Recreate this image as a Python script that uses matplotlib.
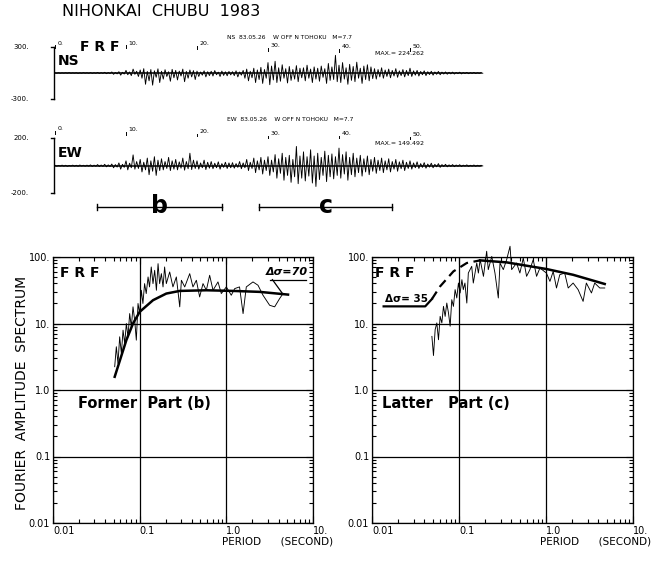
import matplotlib
matplotlib.use("Agg")
import matplotlib.pyplot as plt
import numpy as np

# ---- accelerograms: peak up / down amplitude (gal) every 0.5 s, 0..60 s ----
ns_up = [2, 3, 2, 3, 4, 2, 3, 2, 4, 3,
         4, 3, 6, 4, 8, 5, 12, 6, 15, 8,
         30, 12, 45, 20, 35, 50, 18, 40, 25, 48,
         20, 38, 15, 42, 30, 22, 45, 18, 35, 28,
         22, 12, 25, 15, 20, 28, 10, 22, 14, 18,
         15, 25, 12, 30, 45, 20, 55, 35, 65, 40,
         120, 80, 135, 60, 95, 50, 75, 40, 85, 55,
         60, 90, 45, 70, 55, 80, 50, 110, 70, 204,
         90, 120, 60, 100, 75, 125, 55, 80, 95, 70,
         50, 40, 60, 35, 45, 30, 50, 25, 40, 30,
         55, 25, 30, 18, 25, 15, 20, 12, 18, 10,
         12, 8, 10, 6, 9, 5, 7, 4, 6, 3, 3]
ns_dn = [2, 3, 2, 2, 3, 2, 4, 3, 2, 3,
         4, 3, 5, 4, 8, 6, 15, 10, 25, 12,
         20, 30, 15, 40, 60, 130, 90, 140, 50, 110,
         70, 40, 95, 55, 80, 35, 100, 60, 45, 75,
         40, 25, 45, 30, 35, 20, 40, 28, 32, 22,
         30, 45, 25, 60, 90, 55, 110, 75, 120, 60,
         135, 80, 110, 95, 60, 115, 85, 70, 100, 55,
         90, 60, 110, 70, 95, 50, 120, 85, 75, 100,
         110, 70, 130, 85, 100, 60, 120, 75, 90, 65,
         70, 45, 60, 40, 55, 35, 50, 30, 45, 30,
         40, 25, 35, 20, 30, 18, 25, 15, 20, 12,
         14, 10, 12, 8, 10, 6, 8, 5, 6, 4, 3]
ew_up = [3, 2, 4, 3, 2, 4, 3, 5, 3, 4,
         6, 4, 8, 5, 10, 6, 12, 8, 20, 10,
         35, 18, 78, 30, 45, 25, 55, 35, 65, 40,
         50, 30, 60, 35, 45, 28, 55, 30, 90, 40,
         35, 20, 40, 25, 30, 18, 28, 15, 25, 20,
         22, 15, 30, 20, 45, 25, 55, 35, 60, 40,
         65, 40, 80, 50, 90, 60, 75, 45, 139, 70,
         100, 65, 115, 70, 90, 60, 105, 75, 85, 65,
         127, 80, 100, 60, 90, 55, 75, 50, 70, 45,
         60, 40, 55, 35, 50, 30, 45, 28, 40, 25,
         35, 20, 28, 15, 22, 12, 18, 10, 15, 8,
         10, 6, 8, 5, 7, 4, 6, 3, 5, 3, 3]
ew_dn = [3, 2, 3, 4, 2, 3, 4, 2, 3, 3,
         5, 4, 6, 5, 8, 6, 15, 10, 25, 12,
         30, 15, 25, 20, 45, 30, 65, 40, 70, 35,
         30, 20, 35, 25, 30, 18, 32, 22, 28, 20,
         25, 15, 28, 18, 22, 15, 25, 12, 20, 15,
         18, 12, 22, 15, 35, 20, 50, 30, 60, 35,
         70, 45, 90, 55, 105, 70, 120, 80, 130, 90,
         110, 75, 125, 150, 100, 70, 115, 80, 95, 70,
         90, 60, 105, 65, 80, 50, 75, 45, 65, 40,
         55, 35, 50, 30, 45, 25, 40, 22, 35, 20,
         25, 15, 20, 12, 18, 10, 15, 8, 12, 6,
         8, 5, 7, 4, 6, 3, 5, 3, 4, 2, 2]
dt = 0.5
time_marks = [0, 10, 20, 30, 40, 50]
time_labels = ["0.", "10.", "20.", "30.", "40.", "50."]

# ---- Fourier spectra (period s, amplitude) ----
left_T = [0.0515, 0.0538, 0.0562, 0.0588, 0.0615, 0.0643, 0.0672, 0.0702, 0.0733, 0.0767,
          0.0801, 0.0838, 0.0876, 0.0915, 0.0957, 0.100, 0.1045, 0.109, 0.114, 0.119,
          0.125, 0.130, 0.136, 0.1425, 0.149, 0.156, 0.163, 0.170, 0.178, 0.186,
          0.194, 0.203, 0.222, 0.242, 0.265, 0.290, 0.303, 0.331, 0.378, 0.412,
          0.451, 0.492, 0.538, 0.588, 0.642, 0.702, 0.801, 0.875, 1.0, 1.14,
          1.25, 1.42, 1.56, 1.70, 2.03, 2.32, 2.65, 3.16, 3.61, 4.12, 4.51]
left_A = [2.24, 4.47, 2.51, 6.31, 3.55, 7.94, 5.01, 10.0, 6.31, 14.1,
          8.91, 17.8, 11.2, 5.62, 20.0, 14.1, 31.6, 20.0, 39.8, 28.2,
          50.1, 35.5, 70.8, 39.8, 63.1, 31.6, 79.4, 39.8, 56.2, 35.5,
          70.8, 39.8, 59.6, 35.5, 50.1, 17.8, 44.7, 35.5, 56.2, 35.5,
          44.7, 25.1, 39.8, 31.6, 53.1, 31.6, 42.2, 28.2, 35.5, 26.6,
          33.5, 35.5, 14.1, 35.5, 42.2, 37.6, 26.6, 18.8, 17.8, 23.7, 28.2]
left_model_T = [0.0515, 0.0702, 0.0838, 0.100, 0.1425, 0.203, 0.290, 0.588, 1.19, 2.42, 5.15]
left_model_A = [1.58, 5.62, 10.0, 14.96, 22.4, 28.2, 30.9, 31.6, 30.9, 29.9, 27.2]

right_T = [0.0488, 0.0509, 0.0532, 0.0556, 0.0581, 0.0607, 0.0635, 0.0663, 0.0693, 0.0724,
           0.0757, 0.0791, 0.0826, 0.0863, 0.0902, 0.0943, 0.0985, 0.103, 0.108, 0.112,
           0.117, 0.123, 0.128, 0.140, 0.146, 0.160, 0.167, 0.175, 0.191, 0.208,
           0.217, 0.238, 0.259, 0.283, 0.296, 0.323, 0.353, 0.386, 0.403, 0.459,
           0.501, 0.548, 0.598, 0.653, 0.713, 0.779, 0.851, 1.01, 1.11, 1.21,
           1.32, 1.44, 1.64, 1.80, 2.05, 2.34, 2.67, 2.91, 3.33, 3.63, 4.15, 4.73]
right_A = [6.4, 3.3, 8.1, 10.2, 5.7, 12.8, 10.2, 18.1, 12.8, 20.3,
           14.4, 9.1, 22.8, 18.1, 32.3, 24.2, 40.6, 28.8, 45.6, 32.3,
           40.6, 20.3, 57.4, 72.4, 40.6, 81.2, 57.4, 91.2, 51.2, 122,
           64.6, 102, 57.4, 24.2, 81.2, 64.6, 91.2, 145, 64.6, 81.2,
           57.4, 96.6, 51.2, 64.6, 91.2, 51.2, 68.4, 57.4, 43, 60.8,
           34.2, 54.2, 57.4, 34.2, 40.6, 32.3, 21.5, 40.6, 28.8, 40.6, 34.2, 34.2]
right_model_T = [0.0136, 0.0409, 0.0488, 0.0607, 0.0863, 0.1228, 0.1745, 0.353, 1.01, 2.05, 4.73]
right_model_A = [18.1, 18.1, 23.3, 36.2, 60.8, 81.2, 89, 83, 66, 54, 39.3]
dash_from, dash_to = 2, 6

x_ticks = [0.01, 0.1, 1.0, 10.0]
x_ticklabels = ["0.01", "0.1", "1.0", "10."]
y_ticks = [0.01, 0.1, 1.0, 10.0, 100.0]
y_ticklabels = ["0.01", "0.1", "1.0", "10.", "100."]

W, H = 652, 563
fig = plt.figure(figsize=(W / 100, H / 100), dpi=100)


def px_axes(x0, y0, x1, y1):
    # pixel box (top-left origin) -> figure axes
    return fig.add_axes([x0 / W, 1 - y1 / H, (x1 - x0) / W, (y1 - y0) / H])


def trace(ax, up, dn):
    up = np.asarray(up, float)
    dn = np.asarray(dn, float)
    t = np.arange(len(up)) * dt
    tt = np.column_stack([t, t + dt / 2]).ravel()
    yy = np.column_stack([up, -dn]).ravel()
    ax.plot(tt, yy, color="black", lw=0.65)
    ax.plot([0, t[-1]], [0, 0], color="black", lw=1.1)


PX_S = 7.1  # pixels per second in top panel
t_left, t_right = -55 / PX_S, (W - 55) / PX_S

# ---------------- NS trace ----------------
g_ns = 300 / 26.0
ax_ns = px_axes(0, 0, W, 110)
ax_ns.set_xlim(t_left, t_right)
ax_ns.set_ylim(-37 * g_ns, 73 * g_ns)
ax_ns.axis("off")
trace(ax_ns, ns_up, ns_dn)
ax_ns.plot([-0.15, -0.15], [-300, 300], color="black", lw=1.0)
ax_ns.plot([-0.6, -0.15], [300, 300], color="black", lw=1.0)
ax_ns.plot([-0.6, -0.15], [-300, -300], color="black", lw=1.0)
ax_ns.text(-5.9, 300, "300.", fontsize=5, va="center")
ax_ns.text(-6.2, -300, "-300.", fontsize=5, va="center")
ax_ns.text(1.0, 61 * g_ns, "NIHONKAI  CHUBU  1983", fontsize=11.5,
           family="DejaVu Sans", va="center")
ax_ns.text(3.5, 300, "F R F", fontsize=10, fontweight="bold", va="center")
ax_ns.text(0.4, 138, "NS", fontsize=10, fontweight="bold", va="center")
ax_ns.text(24.2, 404, "NS  83.05.26    W OFF N TOHOKU   M=7.7", fontsize=4.3, va="center")
ax_ns.text(45.1, 225, "MAX.= 224.262", fontsize=4.5, va="center")
for tm, lab, yv in zip(time_marks, time_labels, [346, 346, 335, 312, 300, 310]):
    ax_ns.plot([tm, tm], [yv - 55, yv - 25], color="black", lw=0.7)
    ax_ns.text(tm + 0.4, yv, lab, fontsize=4.5, va="center")

# ---------------- EW trace ----------------
g_ew = 200 / 27.7
ax_ew = px_axes(0, 110, W, 235)
ax_ew.set_xlim(t_left, t_right)
ax_ew.set_ylim(-69.3 * g_ew, 55.7 * g_ew)
ax_ew.axis("off")
trace(ax_ew, ew_up, ew_dn)
ax_ew.plot([-0.15, -0.15], [-200, 200], color="black", lw=1.0)
ax_ew.plot([-0.6, -0.15], [200, 200], color="black", lw=1.0)
ax_ew.plot([-0.6, -0.15], [-200, -200], color="black", lw=1.0)
ax_ew.text(-5.9, 200, "200.", fontsize=5, va="center")
ax_ew.text(-6.2, -200, "-200.", fontsize=5, va="center")
ax_ew.text(0.4, 92, "EW", fontsize=10, fontweight="bold", va="center")
ax_ew.text(24.2, 330, "EW  83.05.26    W OFF N TOHOKU   M=7.7", fontsize=4.3, va="center")
ax_ew.text(45.1, 160, "MAX.= 149.492", fontsize=4.5, va="center")
for tm, lab, yv in zip(time_marks, time_labels, [265, 258, 250, 236, 236, 228]):
    ax_ew.plot([tm, tm], [yv - 38, yv - 18], color="black", lw=0.7)
    ax_ew.text(tm + 0.4, yv, lab, fontsize=4.5, va="center")

# time windows b and c
for (a, b), lab in zip([(5.9, 23.5), (28.7, 47.5)], ["b", "c"]):
    yb = -298
    ax_ew.plot([a, b], [yb, yb], color="black", lw=1.0)
    ax_ew.plot([a, a], [yb - 22, yb + 22], color="black", lw=1.0)
    ax_ew.plot([b, b], [yb - 22, yb + 22], color="black", lw=1.0)
    ax_ew.text((a + b) / 2, yb + 10, lab, fontsize=17, fontweight="bold",
               ha="center", va="center")


# ---------------- spectra ----------------
def spec_axes(ax):
    ax.set_xscale("log")
    ax.set_yscale("log")
    ax.set_xlim(0.01, 10)
    ax.set_ylim(0.01, 100)
    ax.set_xticks(x_ticks)
    ax.set_xticklabels(x_ticklabels, ha="left", fontsize=7)
    ax.set_yticks(y_ticks)
    ax.set_yticklabels(y_ticklabels, fontsize=7)
    ax.tick_params(which="both", direction="in", top=True, right=True, width=0.8)
    ax.tick_params(which="major", length=5, pad=2)
    ax.tick_params(which="minor", length=3)
    ax.grid(True, which="major", color="black", lw=0.9)
    for s in ax.spines.values():
        s.set_linewidth(0.9)


axL = px_axes(53, 257, 313, 523)
spec_axes(axL)
axL.plot(left_T, left_A, color="black", lw=0.65, clip_on=False)
axL.plot(left_model_T, left_model_A, color="black", lw=1.8)
axL.text(0.027, 0.94, "F R F", transform=axL.transAxes, fontsize=10,
         fontweight="bold", va="center")
axL.text(0.096, 0.451, "Former  Part (b)", transform=axL.transAxes, fontsize=10.5,
         fontweight="bold", va="center")
axL.text(5.0, 50, "Δσ=70", fontsize=8, fontweight="bold", style="italic",
         ha="center", va="bottom")
axL.plot([3.16, 8.23], [45.7, 45.7], color="black", lw=0.9)
axL.plot([3.40, 4.51], [45.7, 27.5], color="black", lw=0.9)

axR = px_axes(372, 257, 633, 523)
spec_axes(axR)
axR.plot(right_T, right_A, color="black", lw=0.65, clip_on=False)
axR.plot(right_model_T[:dash_from + 1], right_model_A[:dash_from + 1], color="black", lw=1.6)
axR.plot(right_model_T[dash_from:dash_to + 1], right_model_A[dash_from:dash_to + 1],
         color="black", lw=1.6, ls=(0, (4, 2.5)))
axR.plot(right_model_T[dash_to:], right_model_A[dash_to:], color="black", lw=1.8)
axR.text(0.012, 0.94, "F R F", transform=axR.transAxes, fontsize=10,
         fontweight="bold", va="center")
axR.text(0.038, 0.451, "Latter   Part (c)", transform=axR.transAxes, fontsize=10.5,
         fontweight="bold", va="center")
axR.text(0.0142, 19.8, "Δσ= 35", fontsize=7.5, fontweight="bold", va="bottom")

fig.text(22 / W, 1 - 393 / H, "FOURIER  AMPLITUDE  SPECTRUM", rotation=90,
         fontsize=10, ha="center", va="center")
fig.text(222 / W, 1 - 542 / H, "PERIOD      (SECOND)", fontsize=7.5, va="center")
fig.text(540 / W, 1 - 542 / H, "PERIOD      (SECOND)", fontsize=7.5, va="center")

fig.savefig("out.png", dpi=100)
